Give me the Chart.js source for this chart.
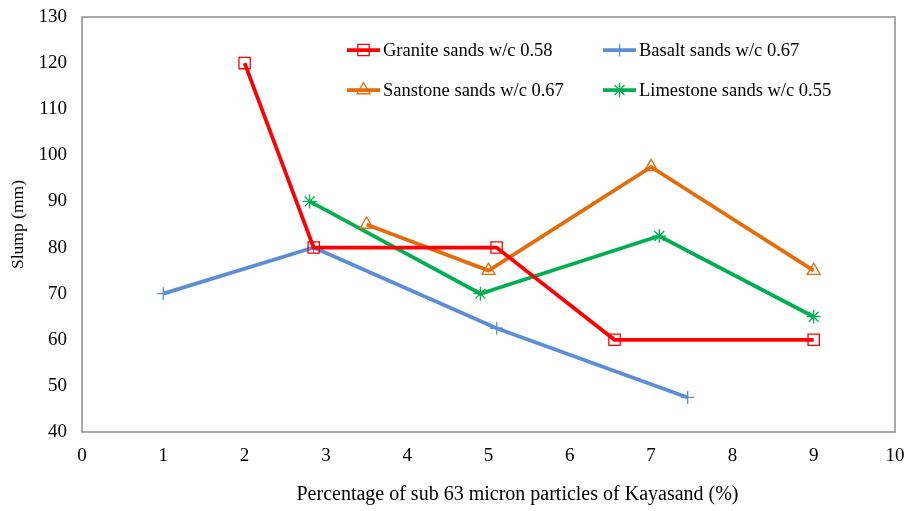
<!DOCTYPE html>
<html>
<head>
<meta charset="utf-8">
<script src="https://cdn.jsdelivr.net/npm/chart.js@4.4.0/dist/chart.umd.min.js"></script>
<style>
  html, body { margin: 0; padding: 0; background: #fff; }
  #wrap { width: 909px; height: 511px; }
</style>
</head>
<body>
<div id="wrap"><canvas id="slumpChart" width="909" height="511"></canvas></div>
<script>
// data
const seriesNames = ['Granite sands w/c 0.58', 'Basalt sands w/c 0.67', 'Sanstone sands w/c 0.67', 'Limestone sands w/c 0.55'];
const xTitle = 'Percentage of sub 63 micron particles of Kayasand (%)';

const graniteX = [2, 2.85, 5.1, 6.55, 9];
const graniteY = [120, 80, 80, 60, 60];

const basaltX = [1, 2.85, 5.1, 7.45];
const basaltY = [70, 80, 62.5, 47.5];

const sandstoneX = [3.5, 5, 7, 9];
const sandstoneY = [85, 75, 97.5, 75];

const limestoneX = [2.8, 4.9, 7.1, 9];
const limestoneY = [90, 70, 82.5, 65];

const xTicks = [0, 1, 2, 3, 4, 5, 6, 7, 8, 9, 10];
const yTicks = [40, 50, 60, 70, 80, 90, 100, 110, 120, 130];

function toPoints(xs, ys){
  return xs.map((x, i) => ({x: x, y: ys[i]}));
}

const FONT = '"Liberation Serif", "Times New Roman", serif';

function makeSet(label, xs, ys, color, style, radius){
  return {
    label: label,
    data: toPoints(xs, ys),
    showLine: true,
    borderColor: color,
    backgroundColor: color,
    borderWidth: 3.75,
    pointStyle: style,
    pointRadius: radius,
    pointBorderWidth: 1.3,
    pointBackgroundColor: 'rgba(0,0,0,0)',
    pointBorderColor: color,
    tension: 0
  };
}

const datasets = [
  makeSet(seriesNames[0], graniteX, graniteY, '#FF0000', 'rect', 8),
  makeSet(seriesNames[1], basaltX, basaltY, '#5B8ED6', 'cross', 6.5),
  makeSet(seriesNames[2], sandstoneX, sandstoneY, '#E46C0A', 'triangle', 7.5),
  makeSet(seriesNames[3], limestoneX, limestoneY, '#00B050', 'star', 7)
];

// frame round the plot area, legend inside it, x title (sits right of centre in the original)
const framePlugin = {
  id: 'frame',
  beforeDatasetsDraw(chart){
    const a = chart.chartArea;
    const c = chart.ctx;
    c.save();
    c.strokeStyle = '#8C8C8C';
    c.lineWidth = 1.5;
    c.strokeRect(a.left, a.top, a.right - a.left, a.bottom - a.top);
    c.restore();
  },
  afterDraw(chart){
    const c = chart.ctx;
    const a = chart.chartArea;
    const cols = [a.left + 265, a.left + 521];
    const rows = [a.top + 33, a.top + 73];
    c.save();
    c.font = '18.5px ' + FONT;
    c.textBaseline = 'middle';
    chart.data.datasets.forEach((ds, i) => {
      const x = cols[i % 2];
      const y = rows[Math.floor(i / 2)];
      c.strokeStyle = ds.borderColor;
      c.lineWidth = 3.75;
      c.beginPath();
      c.moveTo(x, y);
      c.lineTo(x + 33, y);
      c.stroke();
      c.lineWidth = 1.3;
      c.strokeStyle = ds.pointBorderColor;
      c.fillStyle = 'rgba(0,0,0,0)';
      Chart.helpers.drawPoint(c, {pointStyle: ds.pointStyle, radius: ds.pointRadius, rotation: 0, borderWidth: 1.3}, x + 16.5, y);
      c.fillStyle = '#000';
      c.fillText(ds.label, x + 36, y + 1);
    });

    c.font = '20px ' + FONT;
    c.textAlign = 'center';
    c.fillStyle = '#000';
    c.fillText(xTitle, (a.left + a.right) / 2 + 29, a.bottom + 63);
    c.restore();
  }
};

new Chart(document.getElementById('slumpChart'), {
  type: 'scatter',
  data: { datasets: datasets },
  plugins: [framePlugin],
  options: {
    responsive: false,
    animation: false,
    layout: { padding: { top: 17, right: 14, left: 0, bottom: 0 } },
    plugins: {
      legend: { display: false },
      tooltip: { enabled: false }
    },
    scales: {
      x: {
        type: 'linear',
        min: 0,
        max: 10,
        afterBuildTicks: (axis) => { axis.ticks = xTicks.map(v => ({value: v})); },
        afterFit: (axis) => {
          axis.height = 79;
          axis.paddingLeft = 0;
          axis.paddingRight = 0;
        },
        grid: { display: false, drawTicks: false },
        border: { display: false },
        ticks: { color: '#000', padding: 13, font: { family: FONT, size: 19 } },
        title: { display: false }
      },
      y: {
        min: 40,
        max: 130,
        afterBuildTicks: (axis) => { axis.ticks = yTicks.map(v => ({value: v})); },
        afterFit: (axis) => {
          axis.width = 82;
          axis.paddingTop = 0;
          axis.paddingBottom = 0;
        },
        grid: { display: false, drawTicks: false },
        border: { display: false },
        ticks: { color: '#000', padding: 15, font: { family: FONT, size: 19 } },
        title: {
          display: true,
          text: 'Slump (mm)',
          color: '#000',
          font: { family: FONT, size: 17.5 },
          padding: { top: 8, bottom: 4 }
        }
      }
    }
  }
});
</script>
</body>
</html>
